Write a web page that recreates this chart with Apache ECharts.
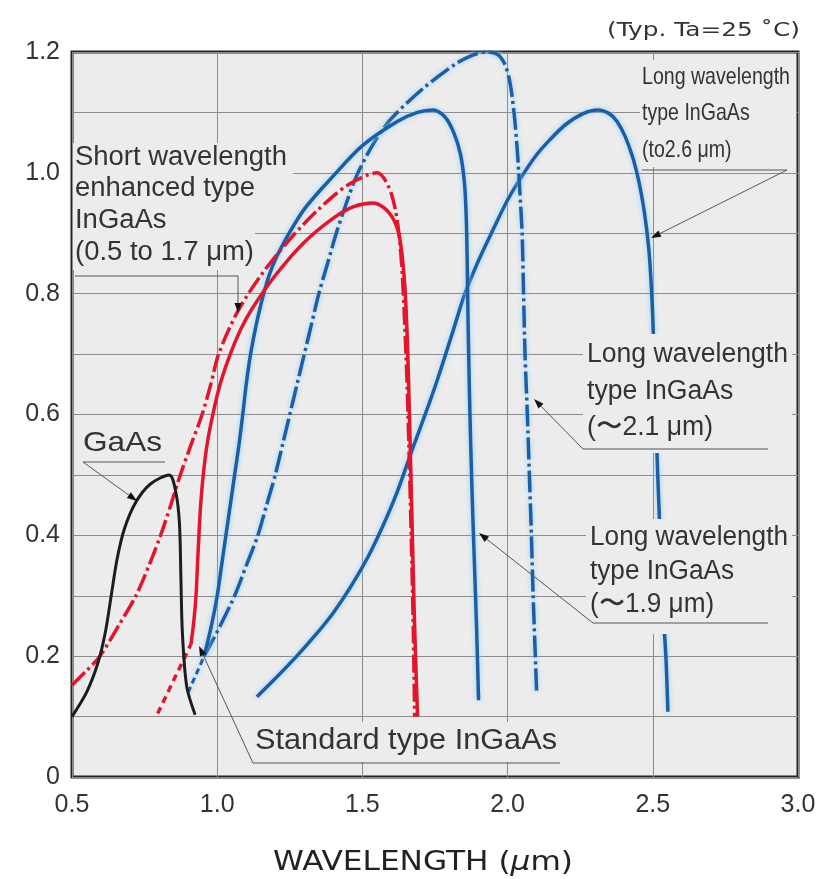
<!DOCTYPE html>
<html><head><meta charset="utf-8">
<script src="https://cdn.jsdelivr.net/npm/echarts@6/dist/echarts.min.js"></script>
<style>html,body{margin:0;padding:0;background:#fff}#c{width:839px;height:879px}</style>
</head><body><div id="c"></div>
<script>
// ---- tick labels ----
const xTicks = ['0.5','1.0','1.5','2.0','2.5','3.0'];
const yTicks = ['0','0.2','0.4','0.6','0.8','1.0','1.2'];

// ---- curves: [wavelength (um), photosensitivity (A/W)] ----
const gaas = [[0.5,0.1],[0.55,0.14],[0.59,0.19],[0.615,0.24],[0.635,0.3],[0.655,0.36],[0.68,0.41],[0.72,0.455],[0.77,0.485],[0.835,0.5],[0.858,0.47],[0.87,0.42],[0.875,0.33],[0.88,0.24],[0.895,0.15],[0.924,0.103]];
const stdSolid = [[0.91,0.22],[0.92,0.26],[0.927,0.3],[0.932,0.35],[0.937,0.4],[0.943,0.45],[0.952,0.5],[0.965,0.55],[0.985,0.6],[1.01,0.65],[1.045,0.7],[1.08,0.74],[1.12,0.775],[1.2,0.83],[1.3,0.885],[1.4,0.925],[1.47,0.944],[1.537,0.95],[1.59,0.935],[1.625,0.9],[1.645,0.82],[1.655,0.72],[1.662,0.6],[1.667,0.5],[1.672,0.4],[1.677,0.3],[1.683,0.2],[1.69,0.1]];
const stdDashed = [[0.795,0.105],[0.85,0.16],[0.91,0.22]];
const swEnhanced = [[0.5,0.152],[0.55,0.176],[0.596,0.2],[0.66,0.25],[0.72,0.3],[0.765,0.35],[0.805,0.4],[0.84,0.45],[0.873,0.5],[0.91,0.55],[0.948,0.6],[0.978,0.65],[1.005,0.7],[1.07,0.77],[1.15,0.83],[1.25,0.89],[1.35,0.94],[1.45,0.98],[1.55,1.0],[1.6,0.965],[1.63,0.88],[1.65,0.7],[1.66,0.55],[1.668,0.4],[1.675,0.25],[1.68,0.1]];
const lw19 = [[0.955,0.2],[0.98,0.25],[1.0,0.3],[1.015,0.35],[1.03,0.4],[1.045,0.45],[1.06,0.5],[1.075,0.55],[1.088,0.6],[1.1,0.65],[1.115,0.7],[1.135,0.75],[1.16,0.8],[1.19,0.845],[1.23,0.885],[1.3,0.94],[1.4,0.995],[1.5,1.045],[1.62,1.085],[1.69,1.1],[1.743,1.104],[1.785,1.092],[1.815,1.066],[1.838,1.03],[1.852,0.98],[1.858,0.92],[1.861,0.85],[1.864,0.75],[1.868,0.65],[1.873,0.55],[1.879,0.45],[1.886,0.35],[1.893,0.25],[1.9,0.127]];
const lw21 = [[0.955,0.2],[1.01,0.25],[1.06,0.3],[1.1,0.35],[1.14,0.4],[1.17,0.45],[1.2,0.5],[1.225,0.55],[1.25,0.6],[1.275,0.65],[1.3,0.7],[1.325,0.75],[1.35,0.8],[1.38,0.85],[1.41,0.9],[1.445,0.95],[1.48,0.995],[1.54,1.05],[1.6,1.09],[1.71,1.14],[1.82,1.18],[1.88,1.195],[1.93,1.2],[1.965,1.196],[1.99,1.18],[2.008,1.15],[2.022,1.1],[2.033,1.04],[2.042,0.97],[2.05,0.9],[2.055,0.8],[2.06,0.7],[2.068,0.6],[2.075,0.5],[2.082,0.4],[2.088,0.3],[2.094,0.22],[2.1,0.14]];
const lwLow = [[0.9,0.14],[0.955,0.2]];
const lw26 = [[1.137,0.133],[1.2,0.163],[1.27,0.198],[1.34,0.236],[1.4,0.272],[1.46,0.315],[1.52,0.365],[1.57,0.415],[1.62,0.472],[1.674,0.545],[1.72,0.605],[1.76,0.66],[1.81,0.735],[1.853,0.8],[1.9,0.855],[1.95,0.906],[2.0,0.955],[2.05,0.995],[2.1,1.03],[2.146,1.055],[2.2,1.08],[2.26,1.098],[2.311,1.104],[2.35,1.098],[2.377,1.085],[2.405,1.06],[2.43,1.027],[2.45,0.99],[2.466,0.95],[2.478,0.91],[2.487,0.87],[2.494,0.82],[2.5,0.76],[2.505,0.68],[2.51,0.6],[2.517,0.5],[2.525,0.4],[2.532,0.3],[2.545,0.2],[2.552,0.108]];

const RED = '#e3142b', BLUE = '#1b5ea6', BLACK = '#1d1d1d', BG = '#ececec';
const glow = {shadowColor:'rgba(140,205,245,0.95)', shadowBlur:5};

function ser(data, color, type, width, extra){
  return {type:'line', data:data, smooth:0.3, symbol:'none', silent:true,
    lineStyle:Object.assign({color:color, width:width, type:type, cap:'butt'}, extra||{})};
}

const chart = echarts.init(document.getElementById('c'), null, {renderer:'canvas'});

// text fitting helpers
const mctx = document.createElement('canvas').getContext('2d');
function scaleFor(text, font, target){ mctx.font = font; return target / mctx.measureText(text).width; }
const FONT = "'Liberation Sans', Arial, sans-serif";
const els = [];
function bgRect(x,y,w,h){ els.push({type:'rect', z:50, silent:true, shape:{x:x,y:y,width:w,height:h}, style:{fill:BG}}); }
function block(lines, left, ys, size, refIdx, refWidth, color, family){
  const font = size + 'px ' + (family||FONT);
  const s = scaleFor(lines[refIdx], font, refWidth);
  lines.forEach(function(t,i){
    els.push({type:'text', z:60, silent:true, x:left, y:ys[i], scaleX:s,
      style:{text:t, fill:color||'#333', font:font, align:'left', verticalAlign:'middle', textAlign:'left', textVerticalAlign:'middle'}});
  });
}
function seg(pts){ els.push({type:'polyline', z:60, silent:true, shape:{points:pts}, style:{stroke:'#555', lineWidth:1, fill:null}}); }
function arrow(x1,y1,x2,y2){
  const a = Math.atan2(y2-y1, x2-x1), L = 10, W = 3.5;
  const bx = x2 - L*Math.cos(a), by = y2 - L*Math.sin(a);
  seg([[x1,y1],[bx,by]]);
  els.push({type:'polygon', z:61, silent:true, shape:{points:[[x2,y2],[bx+W*Math.sin(a), by-W*Math.cos(a)],[bx-W*Math.sin(a), by+W*Math.cos(a)]]}, style:{fill:'#111'}});
}

// label blocks (background boxes hide grid and curves like the reference)
bgRect(73,143,220,31);
bgRect(73,174,182,96);
block(['Short wavelength','enhanced type','InGaAs','(0.5 to 1.7 μm)'], 75, [158,189,221,253], 27, 0, 212);
seg([[75,276],[238,276]]); arrow(238,276,238,313);

bgRect(80,428,88,31);
block(['GaAs'], 83, [443], 28, 0, 79);
seg([[83,462],[165,462]]); arrow(83,462,137,501);

bgRect(252,722,310,40);
block(['Standard type InGaAs'], 255, [741], 29, 0, 302);
seg([[253,763],[560,763]]); arrow(253,763,199,646);

bgRect(640,60,156,107);
block(['Long wavelength','type InGaAs','(to2.6 μm)'], 642, [77,113,150], 24, 0, 148);
seg([[642,170],[787,170]]); arrow(787,170,651,238);

bgRect(583,334,209,119);
block(['Long wavelength','type InGaAs','(〜2.1 μm)'], 587, [355,392,428], 27, 0, 201);
seg([[583,449],[768,449]]); arrow(583,449,534,399);

bgRect(586,519,206,115);
block(['Long wavelength','type InGaAs','(〜1.9 μm)'], 590, [538,572,605], 27, 0, 198);
seg([[593,623],[768,623]]); arrow(593,623,479,533);

// header & axis title
(function(){
  const t = '(Typ. Ta=25 ˚C)', font = "19px 'DejaVu Sans', sans-serif";
  const s = scaleFor(t, font, 193);
  els.push({type:'text', z:60, silent:true, x:800, y:31, scaleX:s,
    style:{text:t, fill:'#333', font:font, align:'right', verticalAlign:'middle', textAlign:'right', textVerticalAlign:'middle'}});
  const fa = "27px 'DejaVu Sans', sans-serif";
  const s2 = scaleFor('WAVELENGTH (μm)', fa, 300);
  els.push({type:'text', z:60, silent:true, x:273, y:863, scaleX:s2,
    style:{text:'{a|WAVELENGTH (}{b|μ}{a|m)}', fill:'#222', font:fa, align:'left', verticalAlign:'middle', textAlign:'left', textVerticalAlign:'middle',
      rich:{a:{fontSize:27, fontFamily:'DejaVu Sans', fill:'#222'}, b:{fontSize:27, fontFamily:'DejaVu Sans', fontStyle:'italic', fill:'#222'}}}});
})();

chart.setOption({
  animation:false,
  backgroundColor:'#fff',
  grid:{left:72, right:41, top:52, bottom:102, show:true, backgroundColor:BG, borderColor:'#222', borderWidth:3, containLabel:false},
  xAxis:{type:'value', min:0.5, max:3.0, interval:0.5,
    axisLine:{show:false}, axisTick:{show:false},
    splitLine:{show:true, lineStyle:{color:'#8c8c8c', width:1}},
    axisLabel:{margin:16, fontSize:25, color:'#333', fontFamily:FONT,
      formatter:function(v){ return xTicks[Math.round((v-0.5)/0.5)] || ''; }}},
  yAxis:{type:'value', min:0, max:1.2, interval:0.1,
    axisLine:{show:false}, axisTick:{show:false},
    splitLine:{show:true, lineStyle:{color:'#8c8c8c', width:1}},
    axisLabel:{margin:12, fontSize:25, color:'#333', fontFamily:FONT, padding:[8,0,0,0],
      formatter:function(v){ const k = Math.round(v*10); return k%2===0 ? (yTicks[k/2]||'') : ''; }}},
  series:[
    ser(lw26, BLUE, 'solid', 3.5, glow),
    ser(lw21, BLUE, [22,4,3,4], 3.5, glow),
    ser(lwLow, BLUE, [6,4], 3, glow),
    ser(lw19, BLUE, 'solid', 3.5, glow),
    ser(stdDashed, RED, [7,5], 3.5),
    ser(stdSolid, RED, 'solid', 3.5),
    ser(swEnhanced, RED, [18,4,3,4], 3.5),
    ser(gaas, BLACK, 'solid', 3)
  ],
  graphic:{elements:els}
});
</script></body></html>
